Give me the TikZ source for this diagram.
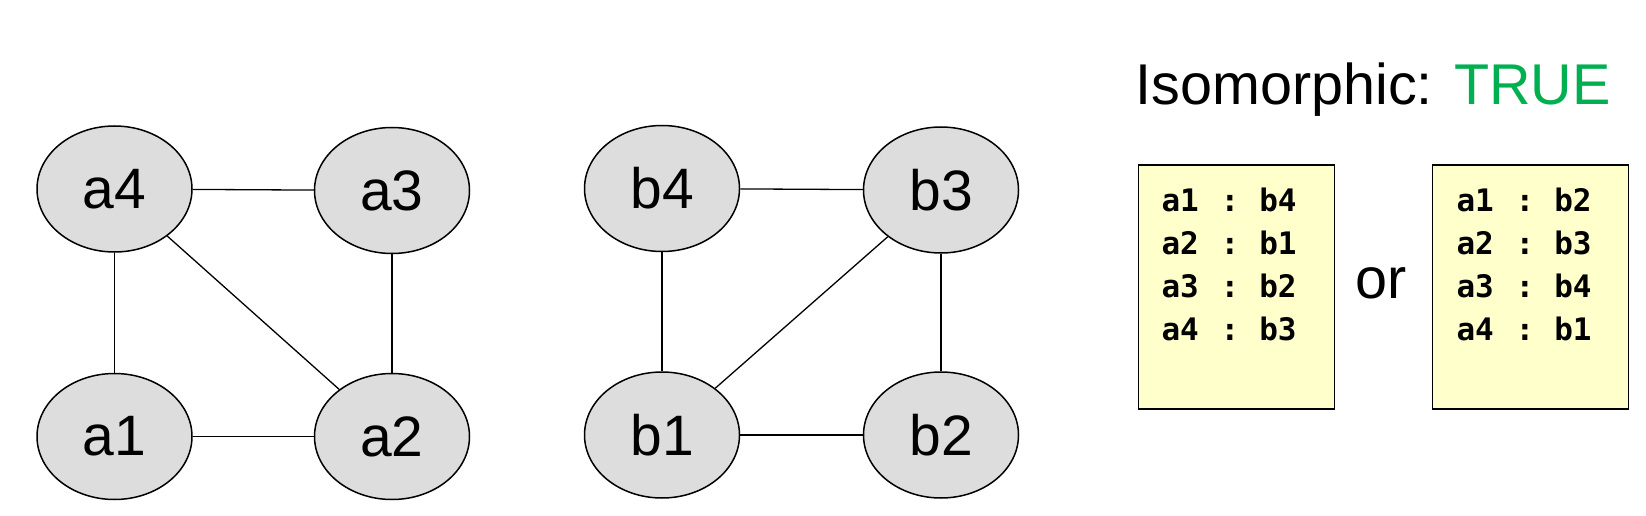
\documentclass[tikz,border=0pt]{standalone}
\usepackage{fontspec}
\setmainfont{Liberation Sans}
\newfontfamily\boxmono{DejaVu Sans Mono}
\usetikzlibrary{shapes.geometric}
\definecolor{nodegray}{HTML}{DDDDDD}
\definecolor{memo}{HTML}{FFFFCC}
\definecolor{truegreen}{HTML}{00B050}
\newcommand{\maprow}[2]{\makebox[68.4pt][l]{#1}\makebox[0pt][c]{:}\hspace{29.4pt}#2}
\begin{document}
\begin{tikzpicture}[x=1pt,y=-1pt,
  vtx/.style={ellipse, draw=black, line width=1.5pt, fill=nodegray,
    minimum width=155pt, minimum height=126pt, inner sep=0pt,
    font=\fontsize{57}{68}\selectfont},
  edge/.style={draw=black, line width=1.3pt},
  memobox/.style={rectangle, draw=black, line width=1.6pt, fill=memo,
    minimum width=196pt, minimum height=244pt, inner sep=0pt},
  memotext/.style={anchor=base west, inner sep=0pt,
    font=\boxmono\bfseries\fontsize{31}{43.3}\selectfont},
  bigtext/.style={anchor=base west, inner sep=0pt,
    font=\fontsize{57.5}{68}\selectfont}]
\fill[white] (0,0) rectangle (1646,516);
\useasboundingbox (0,0) rectangle (1646,516);

% graph A
\node[vtx] (a4) at (114.5,189) {a4};
\node[vtx] (a3) at (392,190.5) {a3};
\node[vtx] (a1) at (114.5,436.5) {a1};
\node[vtx] (a2) at (392,436.5) {a2};
\draw[edge] (a4) -- (a3);
\draw[edge] (a4) -- (a1);
\draw[edge] (a3) -- (a2);
\draw[edge] (a1) -- (a2);
\draw[edge] (a4) -- (a2);

% graph B
\node[vtx] (b4) at (662,188.5) {b4};
\node[vtx] (b3) at (941,190) {b3};
\node[vtx] (b1) at (662,435) {b1};
\node[vtx] (b2) at (941,435) {b2};
\draw[edge] (b4) -- (b3);
\draw[edge] (b4) -- (b1);
\draw[edge] (b3) -- (b2);
\draw[edge] (b1) -- (b2);
\draw[edge] (b3) -- (b1);

% result
\node[bigtext] (title) at (1135.5,105) {Isomorphic: \textcolor{truegreen}{TRUE}};

\node[memobox] (m1) at (1236.5,286.8) {};
\node[memobox] (m2) at (1530.3,286.8) {};
\node[memotext] (t1) at (1161.3,211) {\begin{tabular}[t]{@{}l@{}}\maprow{a1}{b4}\\\maprow{a2}{b1}\\\maprow{a3}{b2}\\\maprow{a4}{b3}\end{tabular}};
\node[memotext] (t2) at (1456.3,211) {\begin{tabular}[t]{@{}l@{}}\maprow{a1}{b2}\\\maprow{a2}{b3}\\\maprow{a3}{b4}\\\maprow{a4}{b1}\end{tabular}};
\node[bigtext] (or) at (1355.3,298.3) {or};
\end{tikzpicture}
\end{document}
